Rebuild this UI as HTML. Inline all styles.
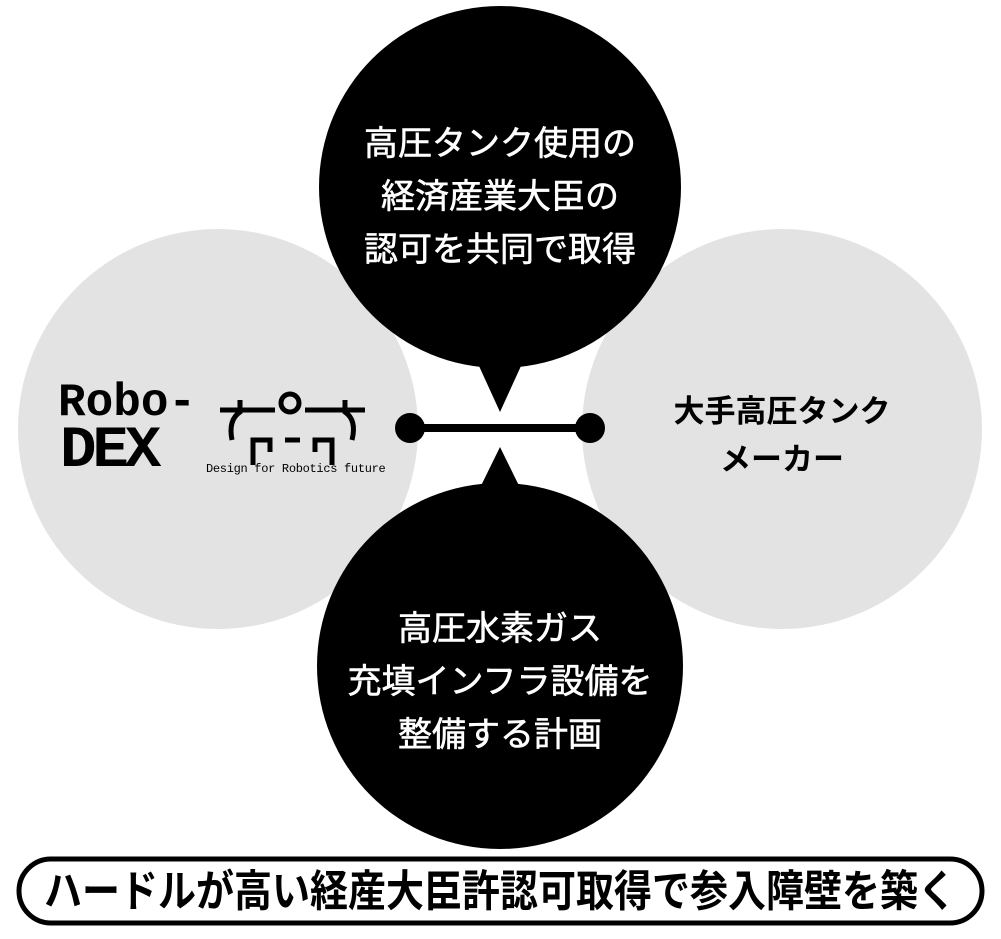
<!DOCTYPE html>
<html><head><meta charset="utf-8"><style>
html,body{margin:0;padding:0;background:#fff;}
body{width:1001px;height:939px;position:relative;overflow:hidden;font-family:"Liberation Sans","Noto Sans CJK JP",sans-serif;}
.t{position:absolute;text-align:center;font-weight:bold;white-space:nowrap;}
</style></head><body>
<svg width="1001" height="939" style="position:absolute;left:0;top:0">
<circle cx="218" cy="429" r="200" fill="#e3e3e3"/>
<circle cx="782" cy="429" r="200" fill="#e3e3e3"/>
<circle cx="500" cy="187" r="181" fill="#000"/>
<polygon points="474,355 526,355 500,412" fill="#000"/>
<circle cx="500" cy="666" r="183" fill="#000"/>
<polygon points="474,500 526,500 500,447" fill="#000"/>
<line x1="410" y1="428" x2="590" y2="428" stroke="#000" stroke-width="8"/>
<circle cx="410" cy="428" r="15" fill="#000"/>
<circle cx="590" cy="428" r="15" fill="#000"/>
<rect x="19" y="859" width="963" height="64" rx="32" fill="#fff" stroke="#000" stroke-width="5"/>
<g stroke="#000" stroke-width="5" fill="none">
<line x1="220" y1="410" x2="275" y2="410"/>
<line x1="305" y1="410" x2="365" y2="410"/>
<circle cx="290" cy="403" r="9"/>
<path d="M240 400 L240 412 Q228 420 232 440"/>
<path d="M345 400 L345 412 Q357 420 352 440"/>
<path d="M253 465 L253 440 L270 440 L270 452"/>
<line x1="285" y1="440" x2="300" y2="440"/>
<path d="M332 465 L332 440 L315 440 L315 452"/>
</g>
</svg>
<div class="t" style="left:58px;top:380px;font-family:'Liberation Mono',monospace;font-size:46px;line-height:46px;transform-origin:0 0;transform:scaleX(1.0);">Robo-</div>
<div class="t" style="left:60px;top:424px;font-family:'Liberation Mono',monospace;font-size:58px;line-height:56px;letter-spacing:-4px;transform-origin:0 0;transform:scaleX(1.05);">DEX</div>
<div class="t" style="left:206px;top:462px;font-family:'Liberation Mono',monospace;font-size:12px;font-weight:normal;letter-spacing:-0.3px;">Design for Robotics future</div>
<div class="t" style="left:320px;width:360px;top:118px;color:#fff;font-size:34px;line-height:53px;font-weight:normal;-webkit-text-stroke:0.6px #fff;">高圧タンク使用の<br>経済産業大臣の<br>認可を共同で取得</div>
<div class="t" style="left:317px;width:366px;top:603px;color:#fff;font-size:34px;line-height:53px;font-weight:normal;-webkit-text-stroke:0.6px #fff;">高圧水素ガス<br>充填インフラ設備を<br>整備する計画</div>
<div class="t" style="left:620px;width:324px;top:388px;color:#000;font-size:31px;line-height:48px;">大手高圧タンク<br>メーカー</div>
<div class="t" style="left:44px;width:912px;top:864px;color:#000;font-size:38px;line-height:50px;transform-origin:0 0;transform:scaleY(1.15);">ハードルが高い経産大臣許認可取得で参入障壁を築く</div>
</body></html>
